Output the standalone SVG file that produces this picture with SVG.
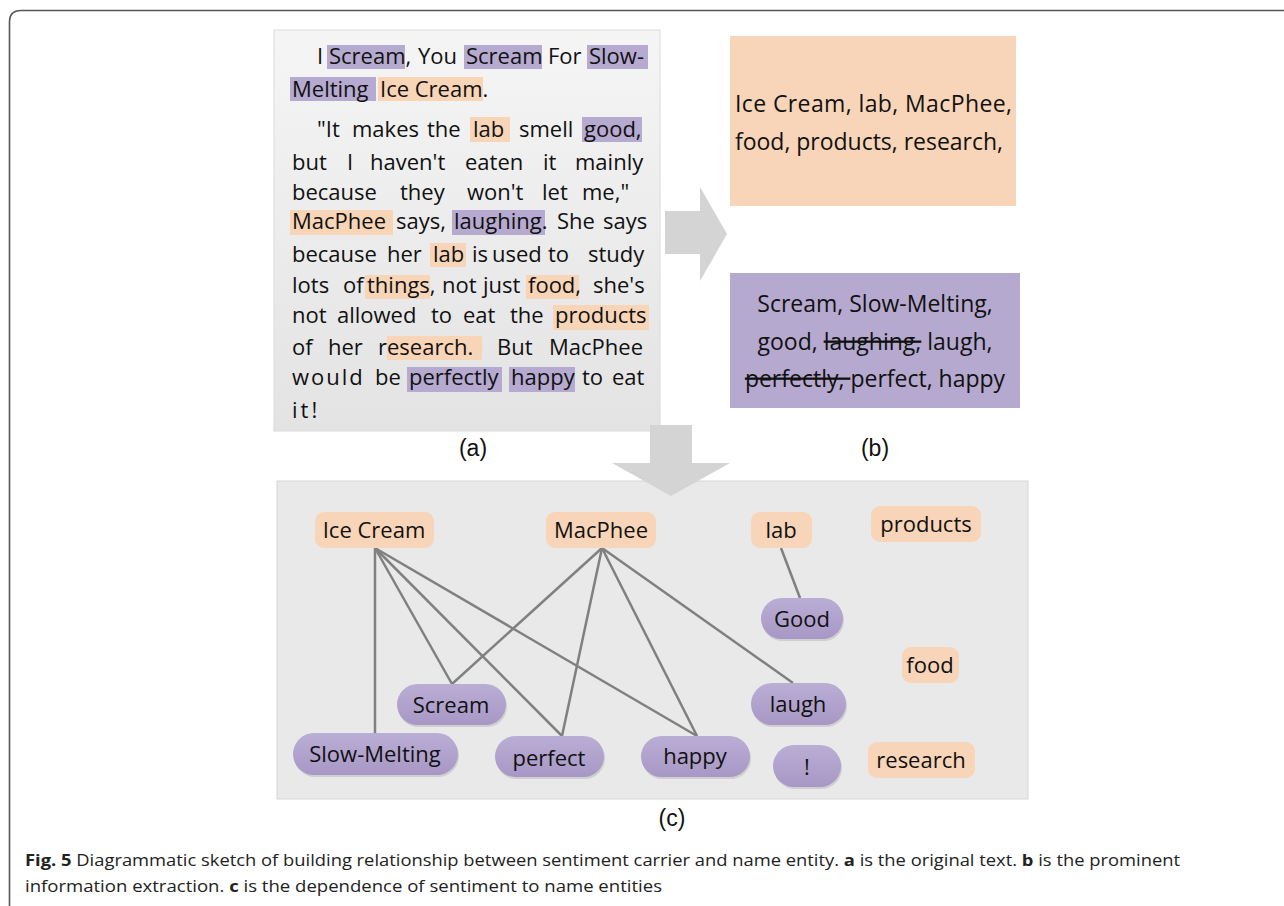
<svg xmlns="http://www.w3.org/2000/svg" width="1284" height="906" viewBox="0 0 1284 906">
<defs>
<linearGradient id="gA" x1="0" y1="0" x2="0" y2="1"><stop offset="0" stop-color="#f5f5f5"/><stop offset="1" stop-color="#e3e3e3"/></linearGradient>
<linearGradient id="gP" x1="0" y1="0" x2="0" y2="1"><stop offset="0" stop-color="#baaed5"/><stop offset="1" stop-color="#a797c5"/></linearGradient>
<style>
.p{font-family:"Open Sans","Noto Sans",sans-serif;font-size:22px;fill:#111}
.b{font-family:"Open Sans","Noto Sans",sans-serif;font-size:23px;fill:#111}
.lbl{font-family:"Liberation Sans",Arial,sans-serif;font-size:23px;fill:#111;text-anchor:middle}
.cap{font-family:"Open Sans","Noto Sans",sans-serif;font-size:16px;fill:#222}
.ho{fill:#f9d5b7}
.hp{fill:#b6aad0}
.on{fill:#f8d5b8}
.pn{fill:url(#gP)}
.sh{fill:#cfcfcf}
.nt{font-family:"Open Sans","Noto Sans",sans-serif;font-size:22px;fill:#111;text-anchor:middle}
.e{stroke:#808080;stroke-width:2.5;fill:none}
.arr{fill:#d4d4d4}
</style>
</defs>
<rect width="1284" height="906" fill="#fff"/>
<path d="M1290 10.5 H21 Q9.5 10.5 9.5 22 V910" fill="none" stroke="#555" stroke-width="1.6"/>

<!-- panel a -->
<g id="panel-a">
<rect x="274" y="30" width="386" height="401" fill="url(#gA)" stroke="#dcdcdc"/>
<rect class="hp" x="327" y="45" width="78" height="24"/>
<rect class="hp" x="464" y="45" width="78" height="24"/>
<rect class="hp" x="587" y="45" width="61" height="24"/>
<rect class="hp" x="290" y="77" width="86" height="24"/>
<rect class="ho" x="378" y="77" width="105" height="24"/>
<rect class="ho" x="470" y="117" width="40" height="25"/>
<rect class="hp" x="582" y="117" width="60" height="25"/>
<rect class="ho" x="290" y="210" width="103" height="25"/>
<rect class="hp" x="452" y="210" width="93" height="25"/>
<rect class="ho" x="430" y="243" width="36" height="24"/>
<rect class="ho" x="365" y="275" width="65" height="24"/>
<rect class="ho" x="526" y="275" width="53" height="24"/>
<rect class="ho" x="553" y="305" width="96" height="25"/>
<rect class="ho" x="387" y="336" width="95" height="24"/>
<rect class="hp" x="407" y="367" width="95" height="25"/>
<rect class="hp" x="509" y="367" width="66" height="25"/>
<text class="p" y="64"><tspan x="317">I</tspan><tspan x="329">Scream,</tspan><tspan x="418">You</tspan><tspan x="466">Scream</tspan><tspan x="548">For</tspan><tspan x="589">Slow-</tspan></text>
<text class="p" y="97"><tspan x="292">Melting</tspan><tspan x="380">Ice Cream.</tspan></text>
<text class="p" y="137"><tspan x="317">"It</tspan><tspan x="352">makes</tspan><tspan x="427">the</tspan><tspan x="473">lab</tspan><tspan x="519">smell</tspan><tspan x="584">good,</tspan></text>
<text class="p" y="170"><tspan x="292">but</tspan><tspan x="347">I</tspan><tspan x="370">haven't</tspan><tspan x="465">eaten</tspan><tspan x="543">it</tspan><tspan x="575">mainly</tspan></text>
<text class="p" y="200"><tspan x="292">because</tspan><tspan x="400">they</tspan><tspan x="467">won't</tspan><tspan x="542">let</tspan><tspan x="582">me,"</tspan></text>
<text class="p" y="229"><tspan x="292">MacPhee</tspan><tspan x="396">says,</tspan><tspan x="454">laughing.</tspan><tspan x="557">She</tspan><tspan x="603">says</tspan></text>
<text class="p" y="262"><tspan x="292">because</tspan><tspan x="387">her</tspan><tspan x="433">lab</tspan><tspan x="472">is</tspan><tspan x="492">used</tspan><tspan x="548">to</tspan><tspan x="588">study</tspan></text>
<text class="p" y="293"><tspan x="292">lots</tspan><tspan x="343">of</tspan><tspan x="367">things,</tspan><tspan x="442">not</tspan><tspan x="483">just</tspan><tspan x="528">food,</tspan><tspan x="593">she's</tspan></text>
<text class="p" y="323"><tspan x="292">not</tspan><tspan x="337">allowed</tspan><tspan x="431">to</tspan><tspan x="463">eat</tspan><tspan x="510">the</tspan><tspan x="555">products</tspan></text>
<text class="p" y="355"><tspan x="292">of</tspan><tspan x="328">her</tspan><tspan x="378">research.</tspan><tspan x="497">But</tspan><tspan x="549">MacPhee</tspan></text>
<text class="p" y="385"><tspan x="292" letter-spacing="2">would</tspan><tspan x="375">be</tspan><tspan x="409">perfectly</tspan><tspan x="511">happy</tspan><tspan x="582">to</tspan><tspan x="612">eat</tspan></text>
<text class="p" y="418" letter-spacing="3"><tspan x="292">it!</tspan></text>
</g>

<!-- panel b -->
<g id="panel-b">
<rect class="on" x="730" y="36" width="286" height="170"/>
<text class="b" x="735" y="112" textLength="277" lengthAdjust="spacing">Ice Cream, lab, MacPhee,</text>
<text class="b" x="735" y="150" textLength="268" lengthAdjust="spacing">food,  products, research,</text>
<rect fill="#b5a9cf" x="730" y="273" width="290" height="135"/>
<text class="b" x="875" y="312" text-anchor="middle">Scream, Slow-Melting,</text>
<text class="b" x="875" y="350" text-anchor="middle">good, <tspan text-decoration="line-through">laughing,</tspan> laugh,</text>
<text class="b" x="875" y="387" text-anchor="middle"><tspan text-decoration="line-through">perfectly, </tspan>perfect, happy</text>
</g>

<text class="lbl" x="473" y="456">(a)</text>
<text class="lbl" x="875" y="456">(b)</text>

<!-- panel c -->
<rect x="277" y="481" width="751" height="318" fill="#e9e9e9" stroke="#d5d5d5"/>

<!-- arrows -->
<polygon class="arr" points="665,211 700,211 700,187 727,234 700,281 700,254 665,254"/>
<polygon class="arr" points="650,425 692,425 692,463 730,463 671,496 612,463 650,463"/>

<g id="connectors">
<line class="e" x1="375" y1="548" x2="375" y2="733"/>
<line class="e" x1="375" y1="548" x2="452" y2="684"/>
<line class="e" x1="375" y1="548" x2="562" y2="736"/>
<line class="e" x1="375" y1="548" x2="697" y2="736"/>
<line class="e" x1="602" y1="548" x2="452" y2="684"/>
<line class="e" x1="602" y1="548" x2="562" y2="736"/>
<line class="e" x1="602" y1="548" x2="697" y2="736"/>
<line class="e" x1="602" y1="548" x2="793" y2="683"/>
<line class="e" x1="781" y1="548" x2="800" y2="598"/>
</g>

<g id="n-icecream"><rect class="on" x="315" y="512" width="119" height="36" rx="9"/><text class="nt" x="374" y="538">Ice Cream</text></g>
<g id="n-macphee"><rect class="on" x="546" y="512" width="110" height="36" rx="9"/><text class="nt" x="601" y="538">MacPhee</text></g>
<g id="n-lab"><rect class="on" x="751" y="512" width="61" height="36" rx="9"/><text class="nt" x="781" y="538">lab</text></g>
<g id="n-products"><rect class="on" x="871" y="506" width="110" height="36" rx="9"/><text class="nt" x="926" y="532">products</text></g>
<g id="n-food"><rect class="on" x="902" y="647" width="57" height="36" rx="9"/><text class="nt" x="930" y="673">food</text></g>
<g id="n-research"><rect class="on" x="868" y="742" width="107" height="36" rx="9"/><text class="nt" x="921" y="768">research</text></g>

<g id="n-good"><rect class="sh" x="762" y="600" width="82" height="41" rx="20.5"/><rect class="pn" x="761" y="598" width="82" height="41" rx="20.5"/><text class="nt" x="802" y="627">Good</text></g>
<g id="n-laugh"><rect class="sh" x="752" y="685" width="95" height="42" rx="21"/><rect class="pn" x="751" y="683" width="95" height="42" rx="21"/><text class="nt" x="798" y="712">laugh</text></g>
<g id="n-scream"><rect class="sh" x="398" y="686" width="109" height="41" rx="20.5"/><rect class="pn" x="397" y="684" width="109" height="41" rx="20.5"/><text class="nt" x="451" y="713">Scream</text></g>
<g id="n-slowmelting"><rect class="sh" x="294" y="735" width="165" height="42" rx="21"/><rect class="pn" x="293" y="733" width="165" height="42" rx="21"/><text class="nt" x="375" y="762" font-size="23">Slow-Melting</text></g>
<g id="n-perfect"><rect class="sh" x="496" y="738" width="109" height="41" rx="20.5"/><rect class="pn" x="495" y="736" width="109" height="41" rx="20.5"/><text class="nt" x="549" y="766">perfect</text></g>
<g id="n-happy"><rect class="sh" x="642" y="738" width="109" height="41" rx="20.5"/><rect class="pn" x="641" y="736" width="109" height="41" rx="20.5"/><text class="nt" x="695" y="764">happy</text></g>
<g id="n-excl"><rect class="sh" x="774" y="747" width="68" height="42" rx="21"/><rect class="pn" x="773" y="745" width="68" height="42" rx="21"/><text class="nt" x="807" y="775">!</text></g>

<text class="lbl" x="672" y="826">(c)</text>

<text class="cap" x="25" y="866" textLength="1155" lengthAdjust="spacingAndGlyphs"><tspan font-weight="bold">Fig. 5</tspan> Diagrammatic sketch of building relationship between sentiment carrier and name entity. <tspan font-weight="bold">a</tspan> is the original text. <tspan font-weight="bold">b</tspan> is the prominent</text>
<text class="cap" x="25" y="892" textLength="637" lengthAdjust="spacingAndGlyphs">information extraction. <tspan font-weight="bold">c</tspan> is the dependence of sentiment to name entities</text>
</svg>
